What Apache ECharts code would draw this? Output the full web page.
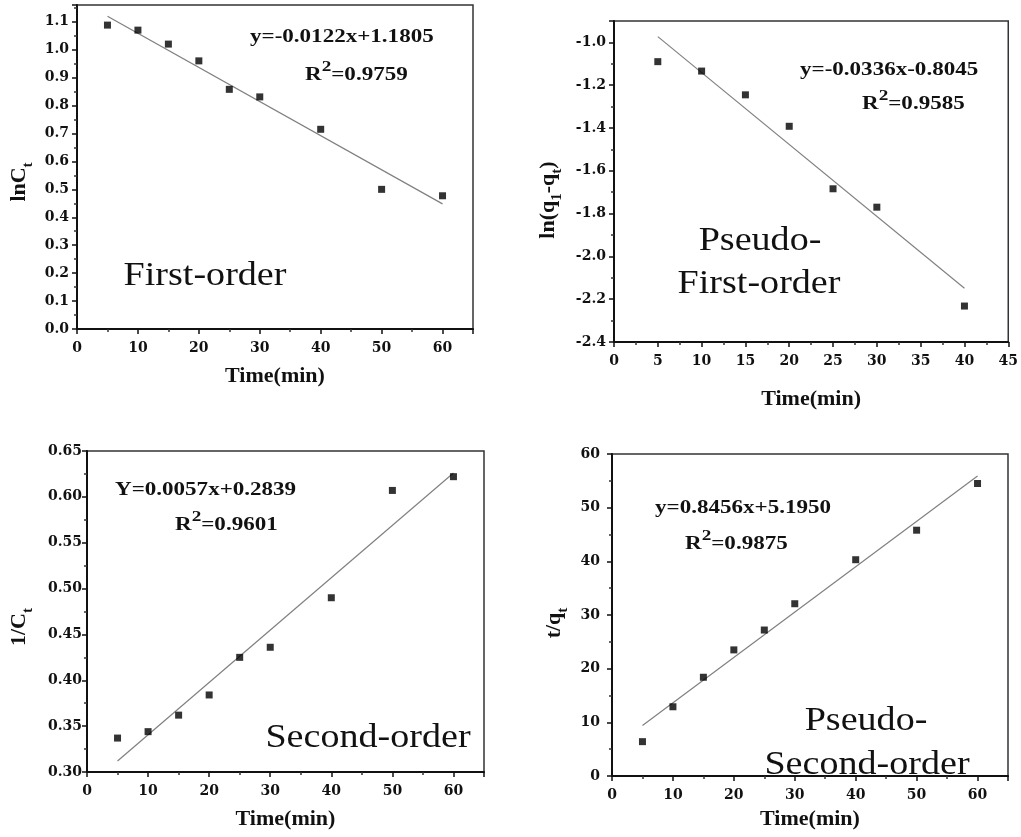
<!DOCTYPE html>
<html>
<head>
<meta charset="utf-8">
<script src="https://cdn.jsdelivr.net/npm/echarts@6/dist/echarts.min.js"></script>
<style>
  html, body { margin: 0; padding: 0; background: #fff; }
  #chart { width: 1021px; height: 837px; }
</style>
</head>
<body>
<div id="chart"></div>
<script>
// time points (min)
const timeA = [5, 10, 15, 20, 25, 30, 40, 50, 60];
const timeB = [5, 10, 15, 20, 25, 30, 40];

const lnCt = [1.088, 1.070, 1.020, 0.960, 0.858, 0.831, 0.715, 0.500, 0.477];
const lnQ = [-1.090, -1.134, -1.245, -1.392, -1.684, -1.770, -2.232];
const invCt = [0.337, 0.344, 0.362, 0.384, 0.425, 0.436, 0.490, 0.607, 0.622];
const tOverQ = [6.4, 12.9, 18.4, 23.5, 27.2, 32.1, 40.3, 45.8, 54.5];

// fitted line end points
const fitXA = [5, 60];
const fitXB = [5, 40];
const fit1 = [1.120, 0.448];
const fit2 = [-0.973, -2.149];
const fit3 = [0.312, 0.626];
const fit4 = [9.4, 55.9];

// text
const eq = [
  ['y=-0.0122x+1.1805', '0.9759'],
  ['y=-0.0336x-0.8045', '0.9585'],
  ['Y=0.0057x+0.2839', '0.9601'],
  ['y=0.8456x+5.1950', '0.9875']
];

const chart = echarts.init(document.getElementById('chart'));

const serif = '"Liberation Serif", "Times New Roman", serif';
const tickFont = '"DejaVu Serif", serif';

function pairs(xs, ys) {
  return xs.map((x, i) => [x, ys[i]]);
}

const grids = [
  { left: 77, top: 5, width: 396, height: 324 },
  { left: 614, top: 21, width: 396, height: 321 },
  { left: 87, top: 451, width: 397, height: 321 },
  { left: 612, top: 454, width: 396, height: 322 }
].map(g => Object.assign(g, { show: true, borderColor: '#333', borderWidth: 1.5, containLabel: false }));

function xAx(idx, max, interval, showMax, gap) {
  return {
    type: 'value', gridIndex: idx, min: 0, max: max, interval: interval,
    name: 'Time(min)', nameLocation: 'middle', nameGap: gap,
    nameTextStyle: { fontFamily: serif, fontWeight: 'bold', fontSize: 22, color: '#111' },
    axisLine: { show: true, lineStyle: { color: '#111', width: 2 } },
    axisTick: { show: true, length: 5, lineStyle: { color: '#111', width: 1.5 } },
    minorTick: { show: true, splitNumber: 2, length: 3, lineStyle: { color: '#333', width: 1.5 } },
    splitLine: { show: false },
    axisLabel: { fontFamily: tickFont, fontWeight: 'bold', fontSize: 14, color: '#111', margin: 12, showMaxLabel: showMax }
  };
}

function yAx(idx, min, max, interval, digits, margin, showMax) {
  return {
    type: 'value', gridIndex: idx, min: min, max: max, interval: interval,
    axisLine: { show: true, lineStyle: { color: '#111', width: 2 } },
    axisTick: { show: true, length: 5, lineStyle: { color: '#111', width: 1.5 } },
    minorTick: { show: true, splitNumber: 2, length: 3, lineStyle: { color: '#333', width: 1.5 } },
    splitLine: { show: false },
    axisLabel: {
      fontFamily: tickFont, fontWeight: 'bold', fontSize: 14, color: '#111', margin: margin,
      showMaxLabel: showMax,
      formatter: v => v.toFixed(digits)
    }
  };
}

function scatter(idx, xs, ys) {
  return {
    type: 'scatter', xAxisIndex: idx, yAxisIndex: idx,
    data: pairs(xs, ys), symbol: 'rect', symbolSize: 7,
    itemStyle: { color: '#000' }, z: 3
  };
}

function fitLine(idx, xs, ys) {
  return {
    type: 'line', xAxisIndex: idx, yAxisIndex: idx,
    data: pairs(xs, ys), showSymbol: false, symbol: 'none',
    lineStyle: { color: '#808080', width: 1.2 }, z: 2
  };
}

// token verticalAlign puts the glyph at the top / bottom edge of the line
const richText = {
  r: { fontFamily: serif, fontWeight: 'bold', fontSize: 18, lineHeight: 24, fill: '#111', verticalAlign: 'bottom' },
  s: { fontFamily: serif, fontWeight: 'bold', fontSize: 15, lineHeight: 15, fill: '#111', verticalAlign: 'top' },
  b: { fontFamily: serif, fontWeight: 'bold', fontSize: 22, lineHeight: 28, fill: '#111', verticalAlign: 'top' },
  t: { fontFamily: serif, fontWeight: 'bold', fontSize: 15, lineHeight: 28, fill: '#111', verticalAlign: 'bottom' }
};

function eqText(x, y, str) {
  return {
    type: 'text', x: x, y: y, scaleX: 1.28, z: 10,
    style: { text: '{r|' + str + '}', rich: richText, align: 'left', verticalAlign: 'middle' }
  };
}

function r2Text(x, y, val) {
  return {
    type: 'text', x: x, y: y, scaleX: 1.28, z: 10,
    style: { text: '{r|R}{s|2}{r|=' + val + '}', rich: richText, align: 'left', verticalAlign: 'middle' }
  };
}

function bigText(cx, cy, str) {
  return {
    type: 'text', x: cx, y: cy, scaleX: 1.12, z: 10,
    style: {
      text: str, fontFamily: serif, fontSize: 34, fill: '#111',
      align: 'center', verticalAlign: 'middle'
    }
  };
}

function yName(cx, cy, str) {
  return {
    type: 'text', x: cx, y: cy, rotation: Math.PI / 2, z: 10,
    style: { text: str, rich: richText, align: 'center', verticalAlign: 'middle' }
  };
}

const option = {
  animation: false,
  backgroundColor: '#fff',
  grid: grids,
  xAxis: [
    xAx(0, 65, 10, false, 36),
    xAx(1, 45, 5, true, 46),
    xAx(2, 65, 10, false, 36),
    xAx(3, 65, 10, false, 32)
  ],
  yAxis: [
    yAx(0, 0, 1.16, 0.1, 1, 8, false),
    yAx(1, -2.4, -0.9, 0.2, 1, 8, false),
    yAx(2, 0.3, 0.65, 0.05, 2, 5, true),
    yAx(3, 0, 60, 10, 0, 12, true)
  ],
  series: [
    fitLine(0, fitXA, fit1), scatter(0, timeA, lnCt),
    fitLine(1, fitXB, fit2), scatter(1, timeB, lnQ),
    fitLine(2, fitXA, fit3), scatter(2, timeA, invCt),
    fitLine(3, fitXA, fit4), scatter(3, timeA, tOverQ)
  ],
  graphic: [
    eqText(250, 34, eq[0][0]), r2Text(305, 72, eq[0][1]),
    eqText(800, 67, eq[1][0]), r2Text(862, 101, eq[1][1]),
    eqText(115, 487, eq[2][0]), r2Text(175, 522, eq[2][1]),
    eqText(655, 505, eq[3][0]), r2Text(685, 541, eq[3][1]),

    bigText(205, 276, 'First-order'),
    bigText(760, 241, 'Pseudo-'),
    bigText(759, 284, 'First-order'),
    bigText(368, 738, 'Second-order'),
    bigText(866, 721, 'Pseudo-'),
    bigText(867, 765, 'Second-order'),

    yName(22, 182, '{b|lnC}{t|t}'),
    yName(551, 200, '{b|ln(q}{t|1}{b|-q}{t|t}{b|)}'),
    yName(22, 627, '{b|1/C}{t|t}'),
    yName(557, 623, '{b|t/q}{t|t}')
  ]
};

chart.setOption(option);
</script>
</body>
</html>
